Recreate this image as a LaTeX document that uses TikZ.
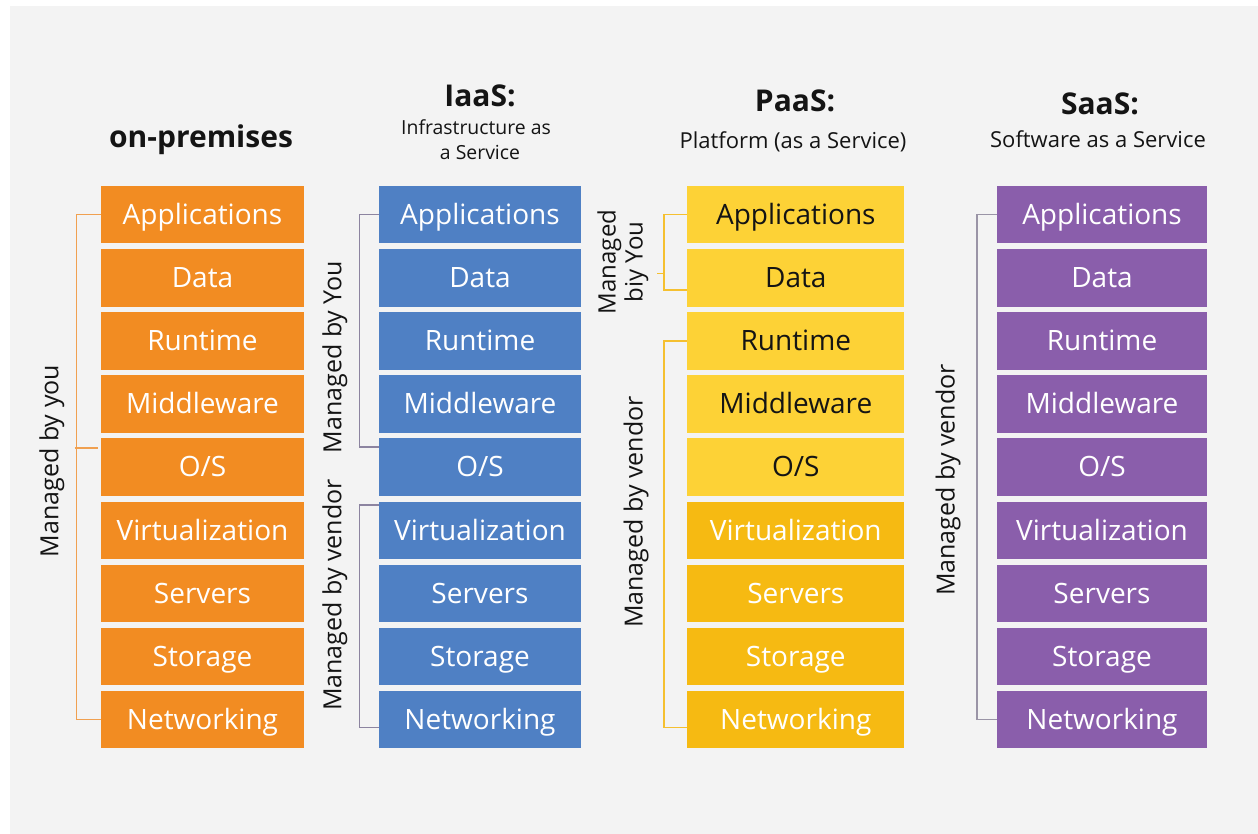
\documentclass[tikz,border=0pt]{standalone}
\usepackage{fontspec}
\setmainfont{Open Sans}
\usetikzlibrary{calc}

\definecolor{panel}{HTML}{F3F3F3}
\definecolor{onprem}{HTML}{F28C22}
\definecolor{iaas}{HTML}{4F80C4}
\definecolor{paaslight}{HTML}{FDD236}
\definecolor{paasdark}{HTML}{F6BA12}
\definecolor{saas}{HTML}{8A5EAB}
\definecolor{onpremline}{HTML}{F0A050}
\definecolor{iaasline}{HTML}{8C84A0}
\definecolor{paasline}{HTML}{F5C030}
\definecolor{saasline}{HTML}{9A94A6}
\definecolor{ink}{HTML}{141414}

\begin{document}
\begin{tikzpicture}[x=0.5pt,y=-0.5pt,
  tier/.style={rectangle, inner sep=0pt, minimum height=28.75pt,
    text height=1.0em, text depth=0.02em,
    font=\fontsize{14}{17}\selectfont},
  title/.style={anchor=base, text=ink, font=\fontsize{15}{18}\selectfont\bfseries},
  subtitle/.style={anchor=base, text=ink, font=\fontsize{11}{13}\selectfont},
  side/.style={rotate=90, text=ink, inner sep=0pt, align=center,
    font=\fontsize{12.5}{13.5}\selectfont},
  bracket/.style={line width=0.7pt}
]
% page and grey panel
\fill[white] (0,0) rectangle (1258,834);
\fill[panel] (10,6) rectangle (1258,834);
\useasboundingbox (0,0) rectangle (1258,834);

% the four stacks of layers
\foreach \t [count=\i] in {Applications,Data,Runtime,Middleware,O/S,Virtualization,Servers,Storage,Networking} {
  \pgfmathsetmacro{\cy}{186+63.1*(\i-1)+28.75}
  \node[tier, fill=onprem, text=white, minimum width=101.5pt] (o\i) at (202.5,\cy) {\t};
  \node[tier, fill=iaas, text=white, minimum width=101pt] (b\i) at (480,\cy) {\t};
  \ifnum\i<6
    \node[tier, fill=paaslight, text=ink, minimum width=108.5pt] (y\i) at (795.8,\cy) {\t};
  \else
    \node[tier, fill=paasdark, text=white, minimum width=108.5pt] (y\i) at (795.8,\cy) {\t};
  \fi
  \node[tier, fill=saas, text=white, minimum width=104.75pt] (p\i) at (1102,\cy) {\t};
}

% column headings
\node[title] (tonprem) at (201,148) {on-premises};
\node[title] (tiaas) at (480,107) {IaaS:};
\node[subtitle, font=\fontsize{9.7}{12}\selectfont] (siaas1) at (476,135) {Infrastructure as};
\node[subtitle, font=\fontsize{9.7}{12}\selectfont] (siaas2) at (480,160) {a Service};
\node[title] (tpaas) at (795,112) {PaaS:};
\node[subtitle] (spaas) at (793,149) {Platform (as a Service)};
\node[title] (tsaas) at (1100,115) {SaaS:};
\node[subtitle] (ssaas) at (1098,148) {Software as a Service};

% on-premises: everything managed by you
\draw[bracket, onpremline] (o1.west) -- ++(-24,0) |- (o9.west);
\draw[bracket, onpremline] ($(o5.north west)+(-26,10)$) -- ($(o5.north west)+(-3,10)$);
\node[side] (lonprem) at (52,461) {Managed by you};

% IaaS
\draw[bracket, iaasline] (b1.west) -- ++(-19,0) |- ($(b5.north west)+(0,9)$);
\draw[bracket, iaasline] ($(b6.north west)+(0,4)$) -- ++(-19,0) |- ($(b9.west)+(0,8)$);
\node[side] (liaas1) at (335,357) {Managed by You};
\node[side] (liaas2) at (335,595) {Managed by vendor};

% PaaS
\draw[bracket, paasline] (y1.west) -- ++(-23,0) |- ($(y2.west)+(0,12)$);
\draw[bracket, paasline] ($(y1.west)+(-23,59)$) -- ++(-7,0);
\draw[bracket, paasline] (y3.west) -- ++(-23,0) |- ($(y9.west)+(0,8)$);
\node[side, font=\fontsize{12}{13.5}\selectfont] (lpaas1) at (623,262) {Managed\\biy You};
\node[side] (lpaas2) at (636,512) {Managed by vendor};

% SaaS: everything managed by the vendor
\draw[bracket, saasline] (p1.west) -- ++(-20,0) |- (p9.west);
\node[side] (lsaas) at (948,480) {Managed by vendor};
\end{tikzpicture}
\end{document}
